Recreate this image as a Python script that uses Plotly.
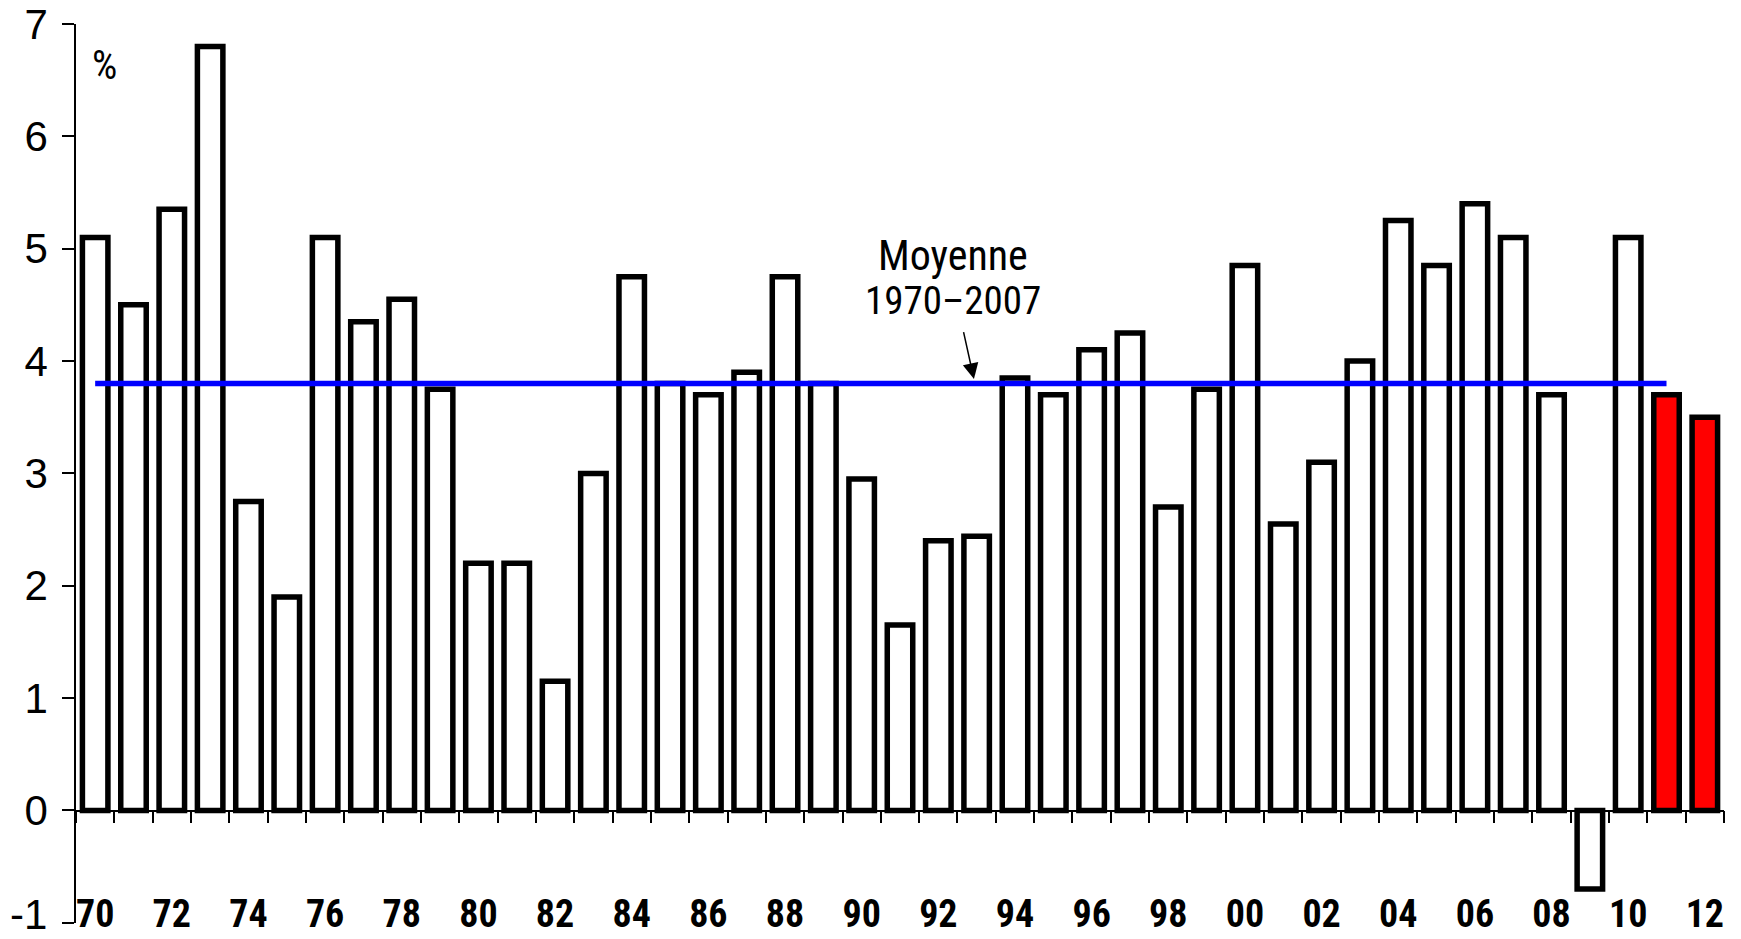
import plotly.graph_objects as go

# ---- data ----
years = list(range(1970, 2013))
growth = [5.1, 4.5, 5.35, 6.8, 2.75, 1.9, 5.1, 4.35, 4.55, 3.75,
          2.2, 2.2, 1.15, 3.0, 4.75, 3.8, 3.7, 3.9, 4.75, 3.8,
          2.95, 1.65, 2.4, 2.44, 3.85, 3.7, 4.1, 4.25, 2.7, 3.75,
          4.85, 2.55, 3.1, 4.0, 5.25, 4.85, 5.4, 5.1, 3.7, -0.7,
          5.1, 3.7, 3.5]
forecast_years = [2011, 2012]
average_value = 3.8
average_years = [1970, 2011]
xtick_years = list(range(1970, 2013, 2))
xtick_labels = ["70", "72", "74", "76", "78", "80", "82", "84", "86", "88", "90",
                "92", "94", "96", "98", "00", "02", "04", "06", "08", "10", "12"]
ytick_vals = [-1, 0, 1, 2, 3, 4, 5, 6, 7]
ytick_labels = ["-1", "0", "1", "2", "3", "4", "5", "6", "7"]
annotation_line1 = "Moyenne"
annotation_line2 = "1970–2007"
unit_text = "%"

NARROW = "Liberation Sans Narrow, Arial Narrow, Roboto Condensed, sans-serif"
REG = "Liberation Sans, Arial, sans-serif"

colors = ["#FF0000" if y in forecast_years else "#FFFFFF" for y in years]

fig = go.Figure()
fig.add_trace(go.Bar(
    x=years, y=growth,
    marker=dict(color=colors, line=dict(color="#000000", width=5.5)),
    showlegend=False, hoverinfo="x+y",
))
fig.add_trace(go.Scatter(
    x=average_years, y=[average_value] * len(average_years),
    mode="lines", line=dict(color="#0000FF", width=5.5),
    xaxis="x2", showlegend=False,
))

xr = [years[0] - 0.5, years[-1] + 0.5]
boundaries = [y - 0.5 for y in years] + [years[-1] + 0.5]

# the lowest y label sits at the bottom edge; it is drawn as an annotation
# so that it stays inside the page
ytext_axis = [""] + ytick_labels[1:]

fig.update_layout(
    width=1741, height=939,
    margin=dict(l=76, r=17, t=24, b=16),
    plot_bgcolor="white", paper_bgcolor="white",
    bargap=0.335,
    xaxis=dict(
        range=xr, anchor="free", position=0.0385, automargin=False,
        tickvals=xtick_years, ticktext=xtick_labels,
        showline=False, ticks="", showgrid=False, zeroline=False,
        ticklabeloverflow="allow",
        tickfont=dict(family=NARROW, size=38, color="black", weight="bold"),
    ),
    xaxis2=dict(
        range=xr, overlaying="x", anchor="free", position=0.125, automargin=False,
        tickvals=boundaries, showticklabels=False,
        showline=True, linecolor="black", linewidth=1.5,
        ticks="outside", ticklen=12, tickwidth=1.5, tickcolor="black",
        showgrid=False, zeroline=False,
    ),
    yaxis=dict(
        range=[-1.002, 7], tickvals=ytick_vals, ticktext=ytext_axis, automargin=False,
        showline=True, linecolor="black", linewidth=1.5,
        ticks="outside", ticklen=12, tickwidth=1.5, tickcolor="black",
        showgrid=False, zeroline=False, ticklabelstandoff=6,
        ticklabeloverflow="allow",
        tickfont=dict(family=REG, size=42, color="black"),
    ),
    annotations=[
        dict(x=-0.0172, y=-16 / 899, xref="paper", yref="paper", text=ytick_labels[0],
             showarrow=False, font=dict(family=REG, size=42, color="black"),
             xanchor="right", yanchor="bottom", borderpad=0),
        dict(x=1992.37, y=4.938, xref="x", yref="y", text=annotation_line1,
             showarrow=False, font=dict(family=NARROW, size=42, color="black"),
             xanchor="center", yanchor="middle"),
        dict(x=1992.37, y=4.535, xref="x", yref="y", text=annotation_line2,
             showarrow=False, font=dict(family=NARROW, size=39, color="black"),
             xanchor="center", yanchor="middle"),
        dict(x=1992.93, y=3.84, xref="x", yref="y", ax=1992.65, ay=4.27,
             axref="x", ayref="y", text="", showarrow=True,
             arrowhead=2, arrowsize=2.1, arrowwidth=1.5, arrowcolor="black"),
        dict(x=1970.24, y=6.63, xref="x", yref="y", text=unit_text,
             showarrow=False, font=dict(family=NARROW, size=40, color="black"),
             xanchor="center", yanchor="middle"),
    ],
)

fig.write_html("out.html", config={"displayModeBar": False},
               post_script="document.body.style.margin='0';")
